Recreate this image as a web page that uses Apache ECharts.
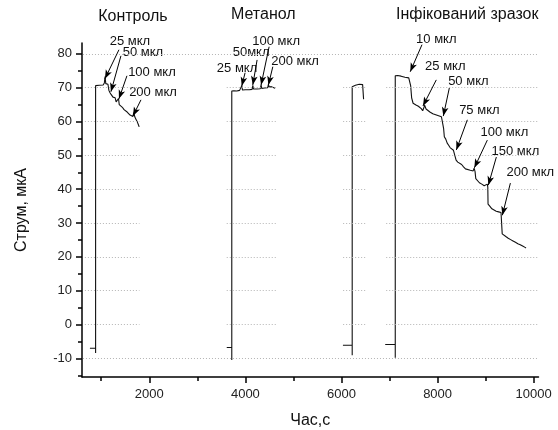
<!DOCTYPE html>
<html>
<head>
<meta charset="utf-8">
<script src="https://cdn.jsdelivr.net/npm/echarts@6/dist/echarts.min.js"></script>
<style>
html,body{margin:0;padding:0;background:#fff;}
#main{width:558px;height:430px;}
</style>
</head>
<body>
<div id="main"></div>
<script>
// ---- axis ticks ----
const xTicks = [2000, 4000, 6000, 8000, 10000];
const xMinorTicks = [1000, 3000, 5000, 7000, 9000];
const yTicks = [-10, 0, 10, 20, 30, 40, 50, 60, 70, 80];
const yMinorTicks = [-15, -5, 5, 15, 25, 35, 45, 55, 65, 75];

// ---- traces [time s, current мкА] ----
const controlTrace = [[765,-7.0],[883,-7.0],[883,-8.4],[883,70.6],[920,70.9],[960,70.7],[1000,71.0],[1040,70.8],[1065,71.4],[1080,73.3],[1095,71.2],[1140,71.0],[1160,69.2],[1180,68.6],[1205,68.0],[1225,68.3],[1245,67.2],[1290,67.0],[1310,65.8],[1340,65.3],[1360,66.8],[1375,65.0],[1410,64.6],[1440,64.2],[1475,63.5],[1510,63.3],[1540,62.8],[1575,62.5],[1600,61.9],[1630,61.7],[1660,61.5],[1678,62.6],[1700,61.3],[1725,60.6],[1750,59.9],[1770,59.2],[1790,58.4]];
const methanolTrace = [[3612,-6.8],[3717,-6.8],[3717,-10.5],[3717,69.0],[3760,69.1],[3820,69.0],[3880,69.2],[3915,69.3],[3925,70.6],[3940,69.3],[4000,69.4],[4080,69.4],[4140,69.5],[4155,70.7],[4170,69.6],[4240,69.6],[4310,69.7],[4327,70.8],[4340,69.8],[4400,69.9],[4465,70.0],[4479,71.0],[4495,70.2],[4540,70.3],[4580,70.1],[4620,69.8]];
const thirdTrace = [[6030,-6.1],[6223,-6.1],[6223,-9.1],[6223,70.3],[6250,70.6],[6290,70.7],[6330,70.9],[6370,71.0],[6410,71.2],[6440,70.9],[6455,70.8],[6460,66.6]];
const infectedTrace = [[6910,-5.9],[7119,-5.9],[7119,-9.8],[7119,73.5],[7140,74.0],[7170,73.6],[7200,73.9],[7240,73.4],[7280,73.6],[7320,73.1],[7360,73.3],[7400,72.9],[7425,72.7],[7440,70.5],[7460,67.0],[7490,65.4],[7520,65.8],[7550,64.9],[7580,65.2],[7600,64.5],[7630,64.8],[7660,63.8],[7690,63.2],[7710,63.9],[7730,64.8],[7760,63.7],[7800,63.2],[7840,62.8],[7900,62.3],[7960,62.0],[8020,61.7],[8080,61.4],[8115,61.2],[8125,58.0],[8140,55.5],[8170,54.8],[8200,53.6],[8230,53.0],[8260,52.3],[8290,51.8],[8330,51.5],[8370,51.2],[8385,48.6],[8420,48.0],[8460,47.6],[8500,47.3],[8540,46.6],[8580,46.0],[8620,45.8],[8680,45.6],[8740,45.4],[8760,46.2],[8780,45.2],[8795,43.1],[8830,42.6],[8870,41.9],[8920,41.5],[8970,41.0],[9010,40.8],[9035,41.5],[9045,40.6],[9050,35.6],[9090,34.9],[9130,34.2],[9170,33.7],[9220,33.5],[9270,33.3],[9320,33.1],[9340,33.0],[9345,26.8],[9380,26.3],[9420,26.0],[9470,25.5],[9520,25.1],[9570,24.7],[9620,24.3],[9670,23.9],[9720,23.6],[9770,23.2],[9820,22.8],[9840,22.6]];

// ---- panel titles [text, x, y] ----
const panelTitles = [["Контроль",1660,91],["Метанол",4373,91.5],["Інфікований зразок",8617,91.5]];

// ---- annotations: label, text pos, arrow start, arrow tip ----
const annotations = [
  ["25 мкл",[1598,83.6],[1369,81.2],[1077,72.6]],
  ["50 мкл",[1869,80.3],[1410,79.4],[1202,68.8]],
  ["100 мкл",[2056,74.4],[1535,73.5],[1369,66.7]],
  ["200 мкл",[2077,68.5],[1827,66.4],[1660,61.6]],
  ["25 мкл",[3827,75.6],[3994,74.4],[3925,70.5]],
  ["50мкл",[4119,80.3],[4244,78.2],[4154,70.8]],
  ["100 мкл",[4640,83.6],[4494,82.1],[4327,70.8]],
  ["200 мкл",[5035,77.9],[4571,76.2],[4479,70.8]],
  ["10 мкл",[7973,84.4],[7675,82.7],[7431,74.7]],
  ["25 мкл",[8160,76.4],[7973,72.3],[7696,64.6]],
  ["50 мкл",[8640,71.7],[8244,69.9],[8119,61.6]],
  ["75 мкл",[8869,63.4],[8619,60.5],[8390,51.6]],
  ["100 мкл",[9390,56.9],[9035,54.5],[8765,46.3]],
  ["150 мкл",[9619,51.3],[9223,49.5],[9056,41.2]],
  ["200 мкл",[9931,45.1],[9515,41.8],[9348,32.3]]
];

// ---- dotted grid: partial segments and full-width levels ----
const gridSegLevels = [70, 60, 50, 40, 30, 20, 10, 0];
const gridSegments = [[660,1795],[3612,4667],[6035,6494],[6931,10098]];
const gridFullLevels = [80, -10];
const gridFullSpan = [620, 10098];

const FONT = "'Liberation Sans', Arial, sans-serif";

const gridMarks = [];
gridSegLevels.forEach(function (lv) {
  gridSegments.forEach(function (s) {
    gridMarks.push([{coord:[s[0], lv]}, {coord:[s[1], lv]}]);
  });
});
gridFullLevels.forEach(function (lv) {
  gridMarks.push([{coord:[gridFullSpan[0], lv]}, {coord:[gridFullSpan[1], lv]}]);
});

const arrowMarks = annotations.map(function (a) {
  return [{coord:a[2]}, {coord:a[3]}];
});

function trace(data) {
  return {
    type: 'line', data: data, showSymbol: false, symbol: 'none',
    lineStyle: {color: '#111', width: 1.1}, z: 3, silent: true, clip: false
  };
}

const chart = echarts.init(document.getElementById('main'), null, {renderer: 'canvas'});
const option = {
  animation: false,
  backgroundColor: '#fff',
  grid: {left: 82, right: 19.5, top: 43, bottom: 53, containLabel: false, outerBoundsMode: 'none'},
  xAxis: [{
    type: 'value', min: 600, max: 10100, position: 'bottom',
    axisLine: {show: true, onZero: false, lineStyle: {color: '#000', width: 1.5}},
    axisTick: {show: true, customValues: xTicks, length: 6, lineStyle: {color: '#000', width: 1.5}},
    axisLabel: {customValues: xTicks, fontSize: 13, color: '#222', fontFamily: FONT, margin: 11,
      formatter: function (v) { return String(v); }},
    splitLine: {show: false},
    name: 'Час,с', nameLocation: 'middle', nameGap: 36,
    nameTextStyle: {fontSize: 16, color: '#111', fontFamily: FONT}
  }, {
    type: 'value', min: 600, max: 10100, position: 'bottom',
    axisLine: {show: false, onZero: false},
    axisTick: {show: true, customValues: xMinorTicks, length: 4, lineStyle: {color: '#000', width: 1.5}},
    axisLabel: {show: false}, splitLine: {show: false}
  }],
  yAxis: [{
    type: 'value', min: -15.5, max: 83.2, position: 'left',
    axisLine: {show: true, onZero: false, lineStyle: {color: '#000', width: 1.5}},
    axisTick: {show: true, customValues: yTicks, length: 6, lineStyle: {color: '#000', width: 1.5}},
    axisLabel: {customValues: yTicks, fontSize: 13, color: '#222', fontFamily: FONT, margin: 10},
    splitLine: {show: false},
    name: 'Струм, мкА', nameLocation: 'middle', nameGap: 52, nameRotate: 90,
    nameTextStyle: {fontSize: 16, color: '#111', fontFamily: FONT}
  }, {
    type: 'value', min: -15.5, max: 83.2, position: 'left',
    axisLine: {show: false, onZero: false},
    axisTick: {show: true, customValues: yMinorTicks, length: 4, lineStyle: {color: '#000', width: 1.5}},
    axisLabel: {show: false}, splitLine: {show: false}
  }],
  series: [
    {
      type: 'line', data: [], silent: true, z: 1,
      markLine: {
        silent: true, symbol: ['none', 'none'], animation: false,
        label: {show: false},
        lineStyle: {color: '#b4b4b4', width: 1, type: [1, 2]},
        emphasis: {disabled: true},
        data: gridMarks
      }
    },
    trace(controlTrace),
    trace(methanolTrace),
    trace(thirdTrace),
    trace(infectedTrace),
    {
      type: 'line', data: [], silent: true, z: 4,
      markLine: {
        silent: true, symbol: ['none', 'arrow'], symbolSize: [5, 9], animation: false,
        label: {show: false},
        lineStyle: {color: '#000', width: 1, type: 'solid'},
        itemStyle: {color: '#000'},
        emphasis: {disabled: true},
        data: arrowMarks
      }
    }
  ]
};
chart.setOption(option);

const graphics = [];
panelTitles.forEach(function (t) {
  const p = chart.convertToPixel({gridIndex: 0}, [t[1], t[2]]);
  graphics.push({type: 'text', x: p[0], y: p[1], silent: true,
    style: {text: t[0], font: '16px ' + FONT, fill: '#111', textAlign: 'center', textVerticalAlign: 'middle'}});
});
annotations.forEach(function (a) {
  const p = chart.convertToPixel({gridIndex: 0}, a[1]);
  graphics.push({type: 'text', x: p[0], y: p[1], silent: true,
    style: {text: a[0], font: '13px ' + FONT, fill: '#111', textAlign: 'center', textVerticalAlign: 'middle'}});
});
chart.setOption({graphic: graphics});
</script>
</body>
</html>
